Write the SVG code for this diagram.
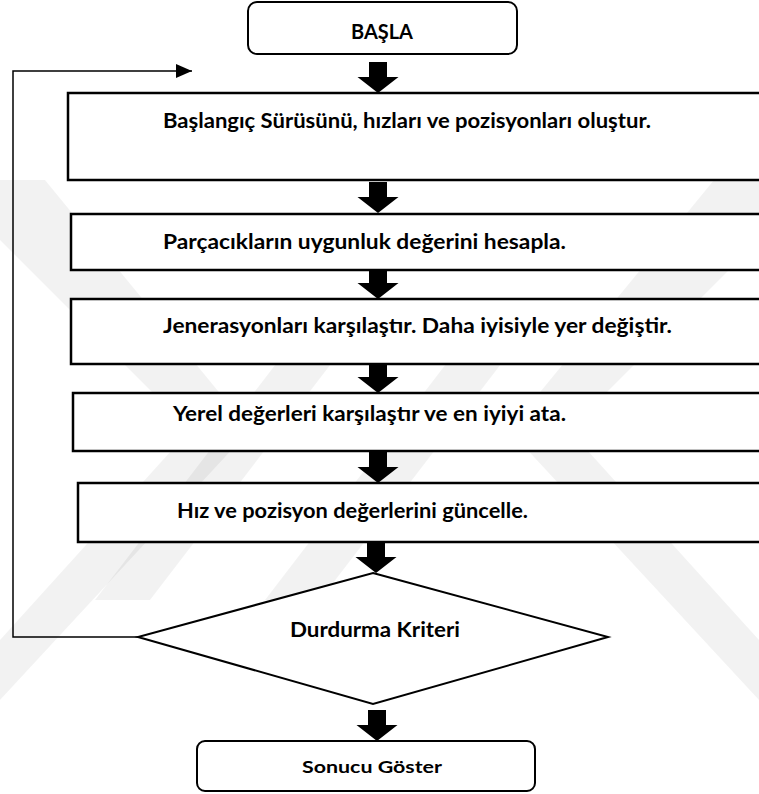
<svg xmlns="http://www.w3.org/2000/svg" width="759" height="794" viewBox="0 0 759 794">
  <defs>
    <style>
      .step { fill: #ffffff; stroke: #000000; stroke-width: 2.5; }
      .term { fill: #ffffff; stroke: #000000; stroke-width: 2; }
      .decision { fill: #ffffff; stroke: #000000; stroke-width: 2; stroke-linejoin: miter; }
      .block-arrow { fill: #000000; stroke: none; }
      .loop { fill: none; stroke: #000000; stroke-width: 1.5; }
      .mark { fill: #000000; fill-opacity: 0.05; }
      .label { font-family: Lato, "Open Sans", "Liberation Sans", sans-serif; font-weight: 700; fill: #000000; }
      .body { font-size: 20px; }
      .small { font-size: 17px; }
    </style>
    <marker id="loop-head" viewBox="0 0 16 14" refX="16" refY="7" markerWidth="16" markerHeight="14" markerUnits="userSpaceOnUse" orient="auto">
      <path d="M0,0 L16,7 L0,14 Z" fill="#000000"/>
    </marker>
    <!-- block arrow pointing down, drawn with its tip at (0,0) -->
    <path id="down-arrow" class="block-arrow" d="M-9,-31 L9,-31 L9,-16 L20.5,-16 L0,0 L-20.5,-16 L-9,-16 Z"/>
  </defs>

  <rect width="759" height="794" fill="#ffffff"/>

  <!-- faint background emblem stripes -->
  <g id="emblem">
    <polygon class="mark" points="0,180 45,180 250,430 0,700 0,640 190,430 0,240"/>
    <polygon class="mark" points="759,180 714,180 509,430 759,700 759,640 569,430 759,240"/>
    <polygon class="mark" points="95,600 150,600 380,300 325,300"/>
    <polygon class="mark" points="265,600 320,600 550,300 495,300"/>
  </g>

  <g id="connectors">
    <use href="#down-arrow" x="378" y="93"/>
    <use href="#down-arrow" x="378" y="213"/>
    <use href="#down-arrow" x="378" y="299"/>
    <use href="#down-arrow" x="378" y="393"/>
    <use href="#down-arrow" x="378" y="483"/>
    <use href="#down-arrow" x="376" y="573"/>
    <use href="#down-arrow" x="377" y="741"/>
    <!-- loop back from the decision to the start of the cycle -->
    <path class="loop" d="M138,637 L13,637 L13,71 L192,71" marker-end="url(#loop-head)"/>
  </g>

  <g id="start">
    <rect class="term" x="248" y="2" width="269" height="52" rx="9"/>
    <text class="label body" x="382" y="39" text-anchor="middle" textLength="62" lengthAdjust="spacingAndGlyphs">BAŞLA</text>
  </g>

  <g id="init-swarm">
    <rect class="step" x="68" y="93" width="700" height="87"/>
    <text class="label body" x="163" y="128" textLength="488" lengthAdjust="spacingAndGlyphs">Başlangıç Sürüsünü, hızları ve pozisyonları oluştur.</text>
  </g>

  <g id="fitness">
    <rect class="step" x="71" y="214" width="700" height="56"/>
    <text class="label body" x="163" y="249" textLength="403" lengthAdjust="spacingAndGlyphs">Parçacıkların uygunluk değerini hesapla.</text>
  </g>

  <g id="compare-generations">
    <rect class="step" x="71" y="299" width="700" height="65"/>
    <text class="label body" x="163" y="333" textLength="509" lengthAdjust="spacingAndGlyphs">Jenerasyonları karşılaştır. Daha iyisiyle yer değiştir.</text>
  </g>

  <g id="local-best">
    <rect class="step" x="73" y="393" width="700" height="58"/>
    <text class="label body" x="173" y="421" textLength="393" lengthAdjust="spacingAndGlyphs">Yerel değerleri karşılaştır ve en iyiyi ata.</text>
  </g>

  <g id="update">
    <rect class="step" x="78" y="483" width="700" height="59"/>
    <text class="label body" x="177" y="518" textLength="351" lengthAdjust="spacingAndGlyphs">Hız ve pozisyon değerlerini güncelle.</text>
  </g>

  <g id="stop-check">
    <polygon class="decision" points="373,573 608,637 373,704 138,637"/>
    <text class="label body" x="375" y="637" text-anchor="middle" textLength="170" lengthAdjust="spacingAndGlyphs">Durdurma Kriteri</text>
  </g>

  <g id="result">
    <rect class="term" x="197" y="741" width="338" height="50" rx="8"/>
    <text class="label small" x="372" y="773" text-anchor="middle" textLength="140" lengthAdjust="spacingAndGlyphs">Sonucu Göster</text>
  </g>
</svg>
